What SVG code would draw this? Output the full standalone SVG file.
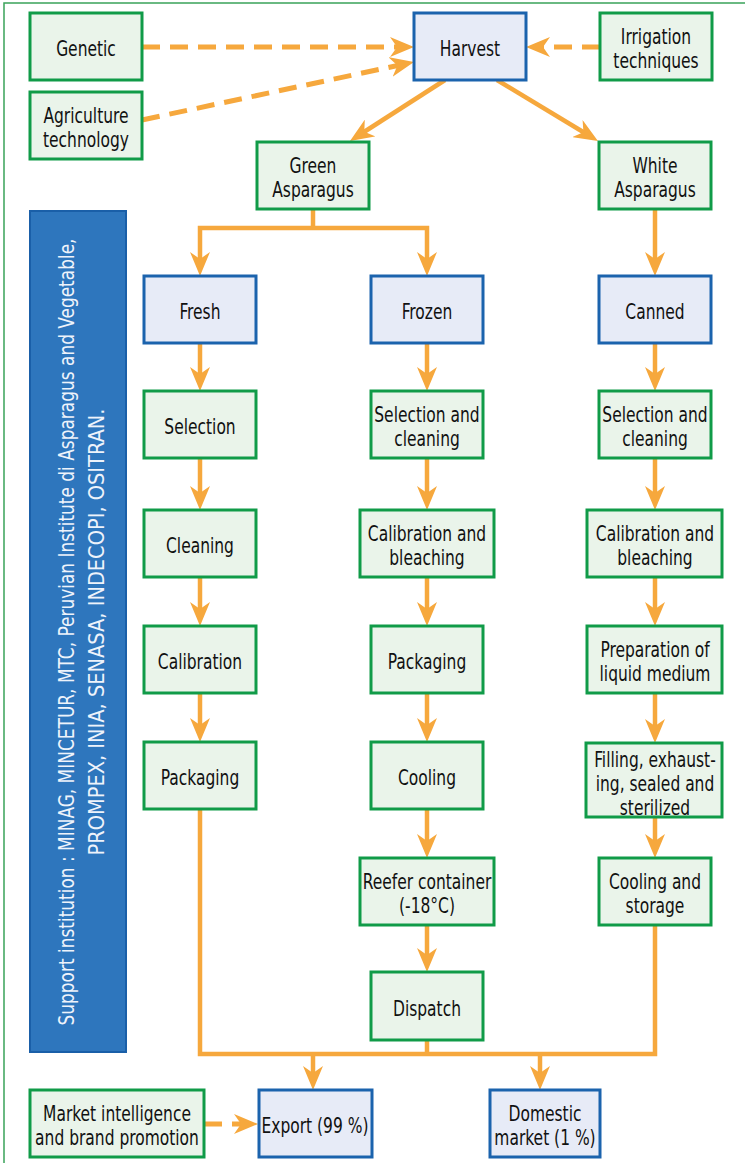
<svg xmlns="http://www.w3.org/2000/svg" width="746" height="1163" viewBox="0 0 746 1163">
<defs>
<style>
.g{fill:#eaf4ea;stroke:#109b48;stroke-width:3}
.b{fill:#e7ebf7;stroke:#1b63ad;stroke-width:3}
text{font-family:"DejaVu Sans Condensed","Liberation Sans",sans-serif;font-size:21px;fill:#111;text-anchor:middle}
.c{fill:none;stroke:#f6a83d;stroke-width:4.5;marker-end:url(#ah)}
.n{fill:none;stroke:#f6a83d;stroke-width:4.5}
.d{fill:none;stroke:#f6a83d;stroke-width:5;stroke-dasharray:18 10;marker-end:url(#ah)}
.bar{fill:#2e76bd;stroke:#1a5fa8;stroke-width:2}
.bt{fill:#eef3fb;font-size:21px}
</style>
<marker id="ah" viewBox="0 0 24 20" refX="12" refY="10" markerWidth="24" markerHeight="20" markerUnits="userSpaceOnUse" orient="auto-start-reverse">
<path d="M0,0 L24,10 L0,20 L7,10 z" fill="#f6a83d"/>
</marker>
</defs>
<rect width="746" height="1163" fill="#fff"/>
<path d="M745,3 H4 V1163" fill="none" stroke="#3aa35a" stroke-width="1.5"/>

<g id="connectors">
<path class="d" d="M142,47 H402"/>
<path class="d" d="M142,120 L402.3,64.5"/>
<path class="d" d="M600,47 H538"/>
<path class="c" d="M445,80 L360.1,134.5"/>
<path class="c" d="M497,80 L587.7,134.8"/>
<path class="n" d="M313,209 V228"/>
<path class="c" d="M200,264 V228 H427 V264" style="marker-start:url(#ah)"/>
<path class="c" d="M655,209 V264"/>
<path class="c" d="M200,343 V379"/>
<path class="c" d="M200,458 V498"/>
<path class="c" d="M200,577 V614"/>
<path class="c" d="M200,693 V730"/>
<path class="c" d="M427,343 V379"/>
<path class="c" d="M427,458 V498"/>
<path class="c" d="M427,577 V614"/>
<path class="c" d="M427,693 V730"/>
<path class="c" d="M427,809 V846"/>
<path class="c" d="M427,925 V960"/>
<path class="c" d="M655,343 V379"/>
<path class="c" d="M655,458 V498"/>
<path class="c" d="M655,577 V614"/>
<path class="c" d="M655,693 V731"/>
<path class="c" d="M655,817 V846"/>
<path class="n" d="M200,809 V1054 H655 V924"/>
<path class="n" d="M427,1040 V1054"/>
<path class="c" d="M313,1054 V1078"/>
<path class="c" d="M540,1054 V1078"/>
<path class="d" d="M204,1124 H246"/>
</g>

<g id="genetic"><rect class="g" x="30" y="13" width="112" height="67"/><g transform="matrix(0.82 0 0 1 15.48 2)"><text x="86" y="54">Genetic</text></g></g>
<g id="agri"><rect class="g" x="30" y="92" width="112" height="67"/><g transform="matrix(0.82 0 0 1 15.48 2)"><text x="86" y="121">Agriculture</text><text x="86" y="145">technology</text></g></g>
<g id="harvest"><rect class="b" x="414" y="13" width="112" height="67"/><g transform="matrix(0.82 0 0 1 84.6 2)"><text x="470" y="54">Harvest</text></g></g>
<g id="irrigation"><rect class="g" x="600" y="13" width="112" height="67"/><g transform="matrix(0.82 0 0 1 118.08 2)"><text x="656" y="42">Irrigation</text><text x="656" y="66">techniques</text></g></g>
<g id="green"><rect class="g" x="257" y="142" width="112" height="67"/><g transform="matrix(0.82 0 0 1 56.34 2)"><text x="313" y="171">Green</text><text x="313" y="195">Asparagus</text></g></g>
<g id="white"><rect class="g" x="599" y="142" width="112" height="67"/><g transform="matrix(0.82 0 0 1 117.9 2)"><text x="655" y="171">White</text><text x="655" y="195">Asparagus</text></g></g>

<g id="support"><rect class="bar" x="30" y="211" width="96" height="841"/>
<text class="bt" transform="translate(74,632) rotate(-90)" textLength="787" lengthAdjust="spacingAndGlyphs">Support institution : MINAG, MINCETUR, MTC, Peruvian Institute di Asparagus and Vegetable,</text>
<text class="bt" transform="translate(104,632) rotate(-90)" textLength="447" lengthAdjust="spacingAndGlyphs">PROMPEX, INIA, SENASA, INDECOPI, OSITRAN.</text>
</g>

<g id="fresh"><rect class="b" x="144" y="276" width="112" height="67"/><g transform="matrix(0.82 0 0 1 36 2)"><text x="200" y="317">Fresh</text></g></g>
<g id="frozen"><rect class="b" x="371" y="276" width="112" height="67"/><g transform="matrix(0.82 0 0 1 76.86 2)"><text x="427" y="317">Frozen</text></g></g>
<g id="canned"><rect class="b" x="599" y="276" width="112" height="67"/><g transform="matrix(0.82 0 0 1 117.9 2)"><text x="655" y="317">Canned</text></g></g>

<g id="selection"><rect class="g" x="144" y="391" width="112" height="67"/><g transform="matrix(0.82 0 0 1 36 2)"><text x="200" y="432">Selection</text></g></g>
<g id="cleaning"><rect class="g" x="144" y="510" width="112" height="67"/><g transform="matrix(0.82 0 0 1 36 2)"><text x="200" y="551">Cleaning</text></g></g>
<g id="calibration"><rect class="g" x="144" y="626" width="112" height="67"/><g transform="matrix(0.82 0 0 1 36 2)"><text x="200" y="667">Calibration</text></g></g>
<g id="packaging1"><rect class="g" x="144" y="742" width="112" height="67"/><g transform="matrix(0.82 0 0 1 36 2)"><text x="200" y="783">Packaging</text></g></g>

<g id="selclean2"><rect class="g" x="371" y="391" width="112" height="67"/><g transform="matrix(0.82 0 0 1 76.86 2)"><text x="427" y="420">Selection and</text><text x="427" y="444">cleaning</text></g></g>
<g id="calbleach2"><rect class="g" x="360" y="510" width="134" height="67"/><g transform="matrix(0.82 0 0 1 76.86 2)"><text x="427" y="539">Calibration and</text><text x="427" y="563">bleaching</text></g></g>
<g id="packaging2"><rect class="g" x="371" y="626" width="112" height="67"/><g transform="matrix(0.82 0 0 1 76.86 2)"><text x="427" y="667">Packaging</text></g></g>
<g id="cooling"><rect class="g" x="371" y="742" width="112" height="67"/><g transform="matrix(0.82 0 0 1 76.86 2)"><text x="427" y="783">Cooling</text></g></g>
<g id="reefer"><rect class="g" x="360" y="858" width="134" height="67"/><g transform="matrix(0.82 0 0 1 76.86 2)"><text x="427" y="887">Reefer container</text><text x="427" y="911">(-18°C)</text></g></g>
<g id="dispatch"><rect class="g" x="371" y="972" width="112" height="68"/><g transform="matrix(0.82 0 0 1 76.86 2)"><text x="427" y="1014">Dispatch</text></g></g>

<g id="selclean3"><rect class="g" x="599" y="391" width="112" height="67"/><g transform="matrix(0.82 0 0 1 117.9 2)"><text x="655" y="420">Selection and</text><text x="655" y="444">cleaning</text></g></g>
<g id="calbleach3"><rect class="g" x="587" y="510" width="135" height="67"/><g transform="matrix(0.82 0 0 1 117.9 2)"><text x="655" y="539">Calibration and</text><text x="655" y="563">bleaching</text></g></g>
<g id="liquid"><rect class="g" x="587" y="626" width="135" height="67"/><g transform="matrix(0.82 0 0 1 117.9 2)"><text x="655" y="655">Preparation of</text><text x="655" y="679">liquid medium</text></g></g>
<g id="filling"><rect class="g" x="586" y="743" width="136" height="74"/><g transform="matrix(0.82 0 0 1 117.9 2)"><text x="655" y="765">Filling, exhaust-</text><text x="655" y="789">ing, sealed and</text><text x="655" y="813">sterilized</text></g></g>
<g id="coolstore"><rect class="g" x="599" y="858" width="112" height="67"/><g transform="matrix(0.82 0 0 1 117.9 2)"><text x="655" y="887">Cooling and</text><text x="655" y="911">storage</text></g></g>

<g id="market"><rect class="g" x="30" y="1090" width="174" height="67"/><g transform="matrix(0.82 0 0 1 21.06 2)"><text x="117" y="1119">Market intelligence</text><text x="117" y="1143">and brand promotion</text></g></g>
<g id="export"><rect class="b" x="259" y="1090" width="113" height="67"/><g transform="matrix(0.82 0 0 1 56.7 2)"><text x="315" y="1131">Export (99 %)</text></g></g>
<g id="domestic"><rect class="b" x="490" y="1090" width="110" height="67"/><g transform="matrix(0.82 0 0 1 98.1 2)"><text x="545" y="1119">Domestic</text><text x="545" y="1143">market (1 %)</text></g></g>
</svg>
